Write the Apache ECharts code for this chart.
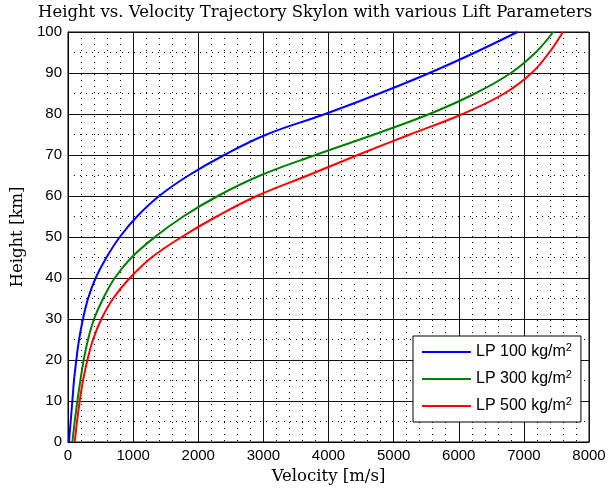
<!DOCTYPE html>
<html>
<head>
<meta charset="utf-8">
<script src="https://cdn.jsdelivr.net/npm/echarts@6/dist/echarts.min.js"></script>
<style>
  html, body { margin: 0; padding: 0; background: #fff; }
  #chart { width: 613px; height: 491px; }
</style>
</head>
<body>
<div id="chart"></div>
<script>
// heights [km] at which the velocity of each trajectory was read
const heights = [0, 5, 10, 15, 20, 25, 30, 35, 40, 45, 50, 55, 60, 65, 70, 75, 80, 85, 90, 95, 100]

// velocity [m/s] per lift parameter
const velLP100 = [15, 41, 67, 92, 128, 170, 230, 308, 425, 590, 795, 1060, 1400, 1850, 2400, 3050, 3950, 4780, 5550, 6250, 6900]
const velLP300 = [67, 103, 144, 190, 241, 308, 400, 540, 718, 975, 1334, 1770, 2300, 2950, 3800, 4700, 5550, 6250, 6800, 7180, 7450]
const velLP500 = [103, 139, 180, 231, 298, 385, 513, 693, 950, 1283, 1745, 2283, 2900, 3680, 4450, 5250, 6060, 6700, 7120, 7390, 7600]

const seriesNames = ['LP 100', 'LP 300', 'LP 500']
const seriesColors = ['#0000ff', '#008000', '#ff0000']

const xTicks = [0, 1000, 2000, 3000, 4000, 5000, 6000, 7000, 8000]
const yTicks = [0, 10, 20, 30, 40, 50, 60, 70, 80, 90, 100]

const sansFont = "'Liberation Sans', Arial, sans-serif"
const serifFont = "'DejaVu Serif', 'Liberation Serif', serif"

function toPairs(vels) {
  return vels.map((v, i) => [v, heights[i]])
}

const chart = echarts.init(document.getElementById('chart'))

const series = [velLP100, velLP300, velLP500].map((vels, i) => ({
  name: seriesNames[i],
  type: 'line',
  data: toPairs(vels),
  symbol: 'none',
  smooth: 0.4,
  lineStyle: { color: seriesColors[i], width: 2 },
  itemStyle: { color: seriesColors[i] },
  z: 5
}))

const option = {
  backgroundColor: '#fff',
  animation: false,
  title: {
    text: 'Height vs. Velocity Trajectory Skylon with various Lift Parameters',
    left: 38,
    top: 4,
    padding: 0,
    textStyle: { fontFamily: serifFont, fontSize: 16.5, fontWeight: 'normal', color: '#000' }
  },
  legend: {
    orient: 'vertical',
    left: 413,
    top: 336,
    padding: [6, 9, 8, 9],
    itemGap: 9,
    itemWidth: 49,
    itemHeight: 2,
    icon: 'rect',
    backgroundColor: '#fff',
    borderColor: '#000',
    borderWidth: 1,
    formatter: name => '{a|' + name + ' kg/m}{s|2}',
    textStyle: {
      color: '#000',
      rich: {
        a: { fontFamily: sansFont, fontSize: 16, color: '#000' },
        s: { fontFamily: sansFont, fontSize: 11, color: '#000', padding: [0, 0, 9, 0] }
      }
    },
    data: seriesNames
  },
  grid: {
    left: 68,
    right: 24,
    top: 32,
    bottom: 49,
    show: true,
    borderColor: '#000',
    borderWidth: 1,
    containLabel: false
  },
  xAxis: {
    type: 'value',
    min: xTicks[0],
    max: xTicks[xTicks.length - 1],
    interval: 1000,
    name: 'Velocity [m/s]',
    nameLocation: 'middle',
    nameGap: 24,
    nameTextStyle: { fontFamily: serifFont, fontSize: 16.5, color: '#000' },
    axisLine: { show: true, lineStyle: { color: '#000', width: 1 } },
    axisTick: { show: false },
    axisLabel: { fontFamily: sansFont, fontSize: 15, color: '#000', margin: 6, formatter: v => String(v) },
    splitLine: { show: true, lineStyle: { color: '#111', width: 1 } },
    minorTick: { show: false, splitNumber: 5 },
    minorSplitLine: { show: true, lineStyle: { color: '#000', width: 1, type: [1, 5] } }
  },
  yAxis: {
    type: 'value',
    min: yTicks[0],
    max: yTicks[yTicks.length - 1],
    interval: 10,
    name: 'Height [km]',
    nameLocation: 'middle',
    nameGap: 40,
    nameTextStyle: { fontFamily: serifFont, fontSize: 16.5, color: '#000' },
    axisLine: { show: true, lineStyle: { color: '#000', width: 1 } },
    axisTick: { show: false },
    axisLabel: { fontFamily: sansFont, fontSize: 15, color: '#000', margin: 6, formatter: v => String(v) },
    splitLine: { show: true, lineStyle: { color: '#111', width: 1 } },
    minorTick: { show: false, splitNumber: 2 },
    minorSplitLine: { show: true, lineStyle: { color: '#000', width: 1, type: [1, 5] } }
  },
  series: series
}

chart.setOption(option)
</script>
</body>
</html>
